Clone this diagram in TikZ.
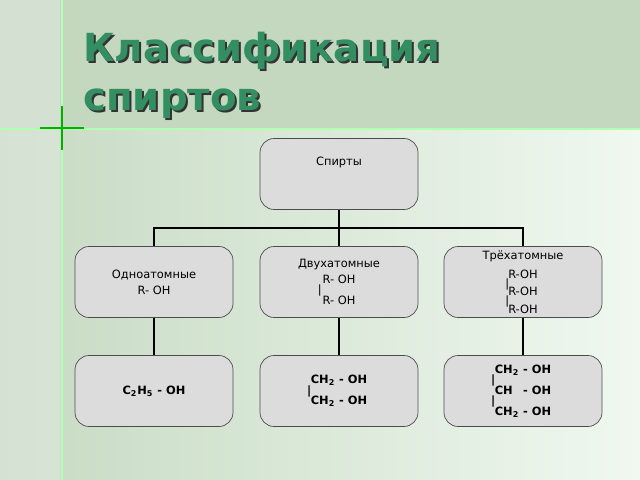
\documentclass[tikz,border=0pt]{standalone}
\usepackage{fontspec}
\setmainfont{DejaVu Sans}
\usepackage{tikz}
\usetikzlibrary{positioning}
\definecolor{bgtop}{HTML}{C4D7BF}
\definecolor{bgleft}{HTML}{C6DAC2}
\definecolor{bgright}{HTML}{F0F8F0}
\definecolor{titlegreen}{HTML}{338E62}
\definecolor{boxfill}{HTML}{DCDCDC}
\tikzstyle{box}=[draw=black!70,fill=boxfill,rounded corners=8pt,minimum width=3.16cm,minimum height=1.42cm,align=center,font=\fontsize{6.5}{9}\selectfont,inner sep=1pt]
\tikzstyle{link}=[-,draw=black,line width=1pt]
\tikzstyle{title}=[anchor=north west,align=left,font=\fontsize{22}{28}\selectfont\bfseries,inner sep=0pt]
\newcommand{\rbar}[1]{\hspace*{-#1}|}
\begin{document}
\begin{tikzpicture}[x=0.02cm,y=-0.02cm]
  \useasboundingbox (0,0) rectangle (640,480);
  % background
  \fill [left color=bgleft,right color=bgright] (0,128) rectangle (640,480);
  \fill [bgtop] (0,0) rectangle (640,128);
  \fill [green!20!black!10,opacity=0.5] (0,0) rectangle (60,480);
  \draw [white!70!green,line width=0.6pt] (0,129) -- (640,129);
  \draw [white!70!green,line width=0.6pt] (62,0) -- (62,480);
  \draw [green!70!black,line width=0.8pt] (40,128) -- (84,128);
  \draw [green!70!black,line width=0.8pt] (62,106) -- (62,150);
  % title
  \node [style=title,text=black!80] at (85,34) {Классификация\\спиртов};
  \node [style=title,text=titlegreen] (title) at (83,32) {Классификация\\спиртов};
  % boxes
  \node [style=box] (root) at (339,174) {Спирты\\[6pt]};
  \node [style=box] (one) at (154,282) {Одноатомные\\R- OH};
  \node [style=box] (two) at (339,282) {Двухатомные\\R- OH\\[-3pt]\rbar{22pt}\\[-3pt]R- OH};
  \node [style=box] (three) at (523,282) {Трёхатомные\\[2pt]R-OH\\[-4pt]\rbar{18pt}\\[-4pt]R-OH\\[-4pt]\rbar{18pt}\\[-4pt]R-OH};
  \node [style=box,font=\fontsize{6.5}{9}\selectfont\bfseries] (ethanol) at (154,391) {C\textsubscript{2}H\textsubscript{5} - OH};
  \node [style=box,font=\fontsize{6.5}{9}\selectfont\bfseries] (glycol) at (339,391) {CH\textsubscript{2} - OH\\[-3pt]\rbar{34pt}\\[-3pt]CH\textsubscript{2} - OH};
  \node [style=box,font=\fontsize{6.5}{9}\selectfont\bfseries] (glycerol) at (523,391) {CH\textsubscript{2} - OH\\[-3pt]\rbar{34pt}\\[-3pt]CH\phantom{\textsubscript{2}} - OH\\[-3pt]\rbar{34pt}\\[-3pt]CH\textsubscript{2} - OH};
  % connectors
  \coordinate (fork) at (339,228);
  \draw [style=link] (root.south) to (fork);
  \draw [style=link] (one.north) |- (fork);
  \draw [style=link] (three.north) |- (fork);
  \draw [style=link] (fork) to (two.north);
  \draw [style=link] (one.south) to (ethanol.north);
  \draw [style=link] (two.south) to (glycol.north);
  \draw [style=link] (three.south) to (glycerol.north);
\end{tikzpicture}
\end{document}
